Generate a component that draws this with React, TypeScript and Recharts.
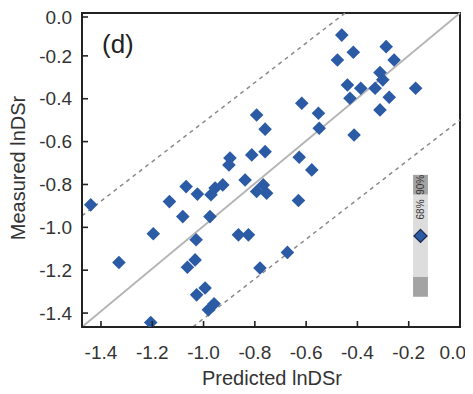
import { ScatterChart, Scatter, XAxis, YAxis, ReferenceLine, ReferenceArea, ReferenceDot } from "recharts"

const predicted = [
  -1.44, -1.33, -1.196, -1.206, -1.133, -1.081, -1.068, -1.024, -1.029, -1.033,
  -1.063, -1.027, -0.994, -0.981, -0.959, -0.975, -0.971, -0.955, -0.925, -0.897,
  -0.901, -0.812, -0.76, -0.838, -0.864, -0.825, -0.793, -0.767, -0.754, -0.78,
  -0.793, -0.76, -0.461, -0.478, -0.416, -0.288, -0.257, -0.312, -0.301, -0.439,
  -0.387, -0.331, -0.429, -0.276, -0.312, -0.173, -0.617, -0.552, -0.549, -0.413,
  -0.627, -0.578, -0.63, -0.673,
]
const measured = [
  -0.895, -1.164, -1.03, -1.444, -0.88, -0.95, -0.81, -0.845, -1.058, -1.152,
  -1.186, -1.315, -1.283, -1.385, -1.357, -0.95, -0.848, -0.817, -0.802, -0.677,
  -0.709, -0.662, -0.647, -0.779, -1.035, -1.035, -0.833, -0.802, -0.841, -1.19,
  -0.476, -0.542, -0.103, -0.219, -0.183, -0.157, -0.219, -0.278, -0.312, -0.336,
  -0.351, -0.351, -0.398, -0.393, -0.452, -0.351, -0.421, -0.468, -0.538, -0.569,
  -0.673, -0.732, -0.875, -1.117,
]
const axisTicks = [-1.4, -1.2, -1.0, -0.8, -0.6, -0.4, -0.2, 0.0]
const xDomain = [-1.474, 0]
const yDomain = [-1.465, 0]

// 1:1 line and the two dashed bounds, as end points in data units
const oneToOne = [{ x: -1.474, y: -1.465 }, { x: 0, y: 0 }]
const upperBound = [{ x: -1.474, y: -0.946 }, { x: -0.448, y: 0 }]
const lowerBound = [{ x: -1.041, y: -1.464 }, { x: 0, y: -0.499 }]

// small interval key on the right
const keyX = [-0.183, -0.125]
const key90 = [-0.755, -0.848]
const key68 = [-0.848, -1.231]
const keyLow = [-1.231, -1.324]
const keyMark = { x: -0.154, y: -1.04 }

const points = predicted.map((x, i) => ({ x, y: measured[i] }))

const FONT = '"Liberation Sans", Arial, sans-serif'
const BLUE = "#2c5ba6"

function Diamond({ cx, cy, r = 6.8, stroke = "none" }: any) {
  if (cx == null || cy == null) return null
  return (
    <polygon
      points={`${cx},${cy - r} ${cx + r},${cy} ${cx},${cy + r} ${cx - r},${cy}`}
      fill={BLUE}
      stroke={stroke}
      strokeWidth={stroke === "none" ? 0 : 1.3}
    />
  )
}

function XTick({ x, y, payload }: any) {
  // last label sits flush with the right edge, like the original
  const last = payload.value === 0
  return (
    <g>
      <line x1={x} y1={y} x2={x} y2={y - 6} stroke="#222" strokeWidth={1.6} />
      <text
        x={last ? x + 6 : x}
        y={y + 25}
        dy="0.35em"
        textAnchor={last ? "end" : "middle"}
        fontSize={19}
        fill="#333"
        fontFamily={FONT}
      >
        {payload.value.toFixed(1)}
      </text>
    </g>
  )
}

function YTick({ x, y, payload }: any) {
  return (
    <g>
      <line x1={x} y1={y} x2={x + 6} y2={y} stroke="#222" strokeWidth={1.6} />
      <text x={x - 10} y={y} dy="0.35em" textAnchor="end" fontSize={19} fill="#333" fontFamily={FONT}>
        {payload.value.toFixed(1)}
      </text>
    </g>
  )
}

export default function App() {
  return (
    <div style={{ position: "relative", width: 465, height: 386 }}>
      <ScatterChart width={465} height={386} margin={{ top: 5, right: 13, bottom: 27, left: 30 }}>
        <XAxis
          type="number"
          dataKey="x"
          domain={xDomain}
          ticks={axisTicks}
          allowDataOverflow
          height={40}
          tickSize={0}
          tickMargin={0}
          tick={<XTick />}
          axisLine={{ stroke: "#222", strokeWidth: 2 }}
          tickLine={false}
        />
        <YAxis
          type="number"
          dataKey="y"
          domain={yDomain}
          ticks={axisTicks}
          allowDataOverflow
          width={44}
          tickSize={0}
          tickMargin={0}
          tick={<YTick />}
          axisLine={{ stroke: "#222", strokeWidth: 2 }}
          tickLine={false}
        />
        <ReferenceLine segment={oneToOne} stroke="#b4b4b4" strokeWidth={1.8} ifOverflow="visible" />
        <ReferenceLine segment={upperBound} stroke="#8a8a8a" strokeWidth={1.5} strokeDasharray="4 4" ifOverflow="visible" />
        <ReferenceLine segment={lowerBound} stroke="#8a8a8a" strokeWidth={1.5} strokeDasharray="4 4" ifOverflow="visible" />
        <ReferenceArea
          x1={keyX[0]} x2={keyX[1]} y1={key90[0]} y2={key90[1]}
          fill="#a3a3a3" fillOpacity={1} stroke="none" ifOverflow="visible"
          label={{ value: "90%", angle: -90, position: "center", fontSize: 10, fill: "#333", fontFamily: FONT }}
        />
        <ReferenceArea
          x1={keyX[0]} x2={keyX[1]} y1={key68[0]} y2={key68[1]}
          fill="#dddddd" fillOpacity={1} stroke="none" ifOverflow="visible"
        />
        <ReferenceArea
          x1={keyX[0]} x2={keyX[1]} y1={key90[1]} y2={-0.985}
          fill="none" stroke="none" ifOverflow="visible"
          label={{ value: "68%", angle: -90, position: "center", fontSize: 10, fill: "#333", fontFamily: FONT }}
        />
        <ReferenceArea
          x1={keyX[0]} x2={keyX[1]} y1={keyLow[0]} y2={keyLow[1]}
          fill="#a3a3a3" fillOpacity={1} stroke="none" ifOverflow="visible"
        />
        <ReferenceDot x={keyMark.x} y={keyMark.y} ifOverflow="visible" shape={(p: any) => <Diamond cx={p.cx} cy={p.cy} r={6.5} stroke="#1a2a4a" />} />
        <Scatter data={points} isAnimationActive={false} shape={(p: any) => <Diamond cx={p.cx} cy={p.cy} />} />
        <ReferenceArea
          x1={xDomain[0]} x2={xDomain[1]} y1={yDomain[0]} y2={yDomain[1]}
          fill="none" stroke="#222" strokeWidth={2} ifOverflow="visible"
        />
      </ScatterChart>
      <svg width={465} height={386} style={{ position: "absolute", left: 0, top: 0, pointerEvents: "none" }}>
        <text x={94} y={36} dy="0.35em" fontSize={26} fill="#222" fontFamily={FONT}>(d)</text>
        <text x={264} y={370} dy="0.35em" textAnchor="middle" fontSize={20} fill="#333" fontFamily={FONT}>
          Predicted lnDSr
        </text>
        <text x={10} y={160} dy="0.35em" textAnchor="middle" fontSize={20} fill="#333" fontFamily={FONT} transform="rotate(-90 10 160)">
          Measured lnDSr
        </text>
      </svg>
    </div>
  )
}
